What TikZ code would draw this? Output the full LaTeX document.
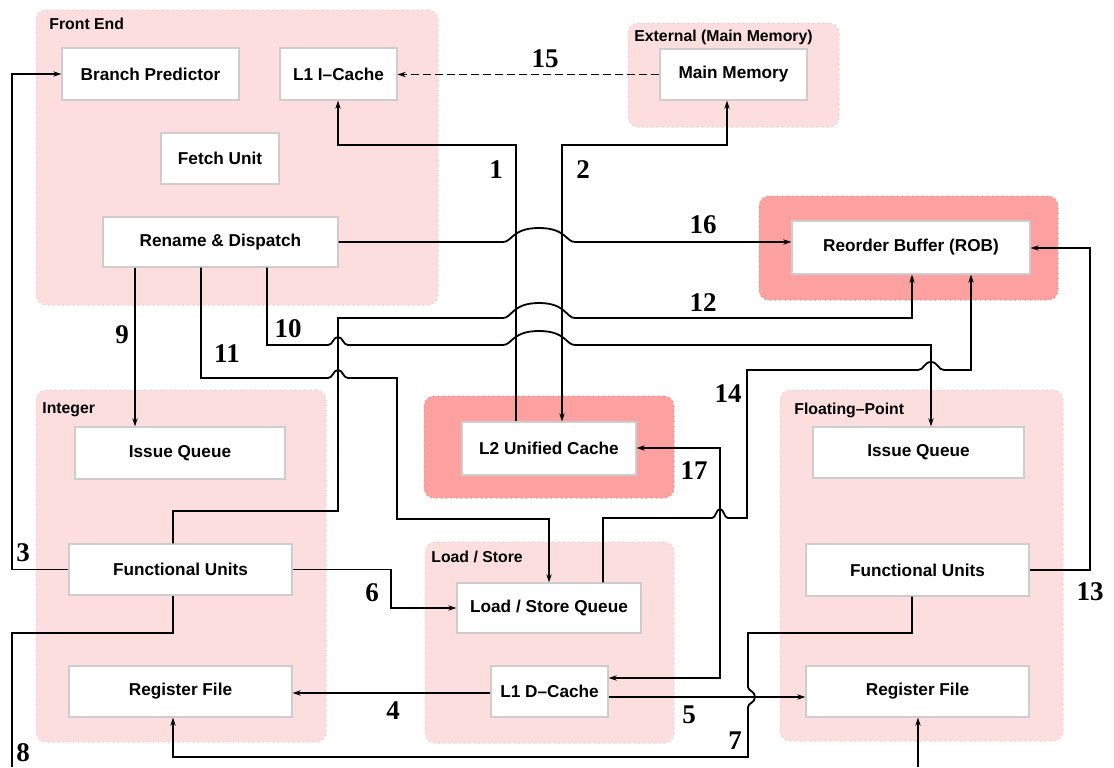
\documentclass[tikz,border=0pt]{standalone}
\usepackage{fontspec}
\setmainfont{Liberation Sans}
\newfontfamily\numfont{Liberation Serif}
\usetikzlibrary{arrows.meta,fit}
\definecolor{grpfill}{RGB}{253,222,222}
\definecolor{grphot}{RGB}{253,160,160}
\definecolor{grpedge}{RGB}{228,192,192}
\definecolor{boxedge}{RGB}{205,205,205}

% a unit box given by its corners (x1,y1) and (x2,y2), in picture units
\newcommand\unitnode[6]{%
  \node[unit, minimum width={(#4-#2)*0.5pt}, minimum height={(#5-#3)*0.5pt}]
    (#1) at ({(#2+#4)/2},{(#3+#5)/2}) {#6};}

\begin{document}
\begin{tikzpicture}[x=0.5pt,y=-0.5pt,
  >={Stealth[length=4pt,width=2.6pt]},
  group/.style={draw=grpedge, dotted, fill=grpfill, rounded corners=5pt, line width=0.5pt, inner sep=0pt},
  hotgroup/.style={group, fill=grphot, draw=grphot!85!black},
  unit/.style={draw=boxedge, fill=white, line width=0.6pt, inner sep=0pt,
    font=\fontsize{8.6}{10}\selectfont\bfseries},
  grouplabel/.style={anchor=west, inner sep=0pt, font=\fontsize{7.9}{9}\selectfont\bfseries},
  num/.style={inner sep=0pt, font=\fontsize{13.5}{15}\selectfont\numfont\bfseries},
  wire/.style={draw=black, line width=0.9pt},
]
\path[fill=white] (0,0) rectangle (1114,767);
\useasboundingbox (0,0) rectangle (1114,767);

% ---- functional groups ----
\node[group, fit={(36,10) (438,305)}] (gfront) {};
\node[group, fit={(628,23) (839,127)}] (gext) {};
\node[hotgroup, fit={(759,196) (1058,300)}] (grob) {};
\node[group, fit={(36,390) (326,742)}] (gint) {};
\node[hotgroup, fit={(424,396) (674,498)}] (gl2) {};
\node[group, fit={(425,542) (674,743)}] (gls) {};
\node[group, fit={(780,390) (1063,741)}] (gfp) {};

\node[grouplabel] (lfront) at (49,24) {Front End};
\node[grouplabel] (lext) at (634,37) {External (Main Memory)};
\node[grouplabel] (lint) at (42,410) {Integer};
\node[grouplabel] (lfp) at (794,410) {Floating–Point};
\node[grouplabel] (lls) at (431,557) {Load / Store};

% ---- units ----
\unitnode{bp}{62}{48}{239}{100}{Branch Predictor}
\unitnode{l1i}{280}{48}{397}{100}{L1 I–Cache}
\unitnode{fetch}{161}{133}{279}{184}{Fetch Unit}
\unitnode{rd}{103}{217}{338}{267}{Rename \& Dispatch}
\unitnode{mm}{660}{49}{807}{100}{Main Memory}
\unitnode{rob}{792}{221}{1030}{274}{Reorder Buffer (ROB)}
\unitnode{iiq}{75}{427}{285}{479}{Issue Queue}
\unitnode{ifu}{69}{544}{292}{595}{Functional Units}
\unitnode{irf}{69}{666}{292}{717}{Register File}
\unitnode{l2}{462}{422}{636}{475}{L2 Unified Cache}
\unitnode{lsq}{457}{583}{641}{633}{Load / Store Queue}
\unitnode{l1d}{491}{666}{608}{717}{L1 D–Cache}
\unitnode{fiq}{813}{427}{1024}{478}{Issue Queue}
\unitnode{ffu}{806}{544}{1029}{596}{Functional Units}
\unitnode{frf}{806}{666}{1029}{717}{Register File}

\coordinate (exitL) at (12,767);
\coordinate (entryR) at (918,767);

% ---- connectors ----
% 1: L2 -> L1 I-cache
\draw[wire,->] (516,0 |- l2.north) -- (516,145) -- (338,145) -- (338,0 |- l1i.south);
% 2: L2 <-> main memory
\draw[wire,<->] (562,0 |- l2.north) -- (562,145) -- (727,145) -- (727,0 |- mm.south);
% 15: main memory -> L1 I-cache
\draw[wire,->,dash pattern=on 4pt off 2pt] (mm.west) -- (mm.west -| l1i.east);
% 16: rename -> ROB
\draw[wire,->] (rd.east) -- (503,242) .. controls (512,242) and (512,228) .. (539,228)
  .. controls (566,228) and (566,242) .. (575,242) -- (rob.west |- 0,242);
% 9: rename -> integer issue queue
\draw[wire,->] (135,0 |- rd.south) -- (135,0 |- iiq.north);
% 10: rename -> FP issue queue
\draw[wire,->] (267,0 |- rd.south) -- (267,345) -- (328,345)
  .. controls (333,345) and (333,337) .. (338,337) .. controls (343,337) and (343,345) .. (348,345)
  -- (503,345) .. controls (512,345) and (512,331) .. (539,331)
  .. controls (566,331) and (566,345) .. (575,345) -- (931,345) -- (931,0 |- fiq.north);
% 11: rename -> load/store queue
\draw[wire,->] (201,0 |- rd.south) -- (201,378) -- (328,378)
  .. controls (333,378) and (333,370) .. (338,370) .. controls (343,370) and (343,378) .. (348,378)
  -- (397,378) -- (397,519) -- (549,519) -- (549,0 |- lsq.north);
% 12: integer units -> ROB
\draw[wire,->] (173,0 |- ifu.north) -- (173,511) -- (338,511) -- (338,318) -- (503,318)
  .. controls (512,318) and (512,303) .. (539,303) .. controls (566,303) and (566,318) .. (575,318)
  -- (912,318) -- (912,0 |- rob.south);
% 14: load/store queue -> ROB
\draw[wire,->] (603,0 |- lsq.north) -- (603,518) -- (712,518)
  .. controls (716,518) and (716,509) .. (720,509) .. controls (724,509) and (724,518) .. (728,518)
  -- (747,518) -- (747,370) -- (918,370)
  .. controls (924,370) and (924,362) .. (931,362) .. controls (938,362) and (938,370) .. (944,370)
  -- (971,370) -- (971,0 |- rob.south);
% 17: L1 D-cache <-> L2
\draw[wire,<->] (l1d.east |- 0,678) -- (720,678) -- (720,448) -- (l2.east |- 0,448);
% 6: integer units -> load/store queue
\draw[wire,->] (ifu.east) -- (391,0 |- ifu.east) -- (391,608) -- (lsq.west |- 0,608);
% 3: integer units -> branch predictor
\draw[wire,->] (ifu.west) -- (12,0 |- ifu.west) -- (12,0 |- bp.west) -- (bp.west);
% 8: integer units -> FP register file (wraps below)
\draw[wire] (173,0 |- ifu.south) -- (173,633) -- (12,633) -- (exitL);
\draw[wire,->] (entryR) -- (entryR |- frf.south);
% 4: L1 D-cache -> integer register file
\draw[wire,->] (l1d.west |- 0,693) -- (irf.east |- 0,693);
% 5: L1 D-cache -> FP register file
\draw[wire,->] (l1d.east |- 0,697) -- (frf.west |- 0,697);
% 7: FP units -> integer register file
\draw[wire,->] (912,0 |- ffu.south) -- (912,633) -- (748,633) -- (748,687)
  .. controls (748,691) and (755,691) .. (755,697) .. controls (755,703) and (748,703) .. (748,707)
  -- (748,757) -- (173,757) -- (173,0 |- irf.south);
% 13: FP units -> ROB
\draw[wire,->] (ffu.east) -- (1090,0 |- ffu.east) -- (1090,248) -- (rob.east |- 0,248);

% ---- connector numbers ----
\node[num] (n1) at (496,170) {1};
\node[num] (n2) at (583,170) {2};
\node[num] (n3) at (23,553) {3};
\node[num] (n4) at (393,711) {4};
\node[num] (n5) at (689,715) {5};
\node[num] (n6) at (372,593) {6};
\node[num] (n7) at (735,741) {7};
\node[num] (n8) at (23,753) {8};
\node[num] (n9) at (122,335) {9};
\node[num] (n10) at (288,329) {10};
\node[num] (n11) at (227,354) {11};
\node[num] (n12) at (703,303) {12};
\node[num] (n13) at (1090,592) {13};
\node[num] (n14) at (728,394) {14};
\node[num] (n15) at (545,59) {15};
\node[num] (n16) at (703,225) {16};
\node[num] (n17) at (694,471) {17};
\end{tikzpicture}
\end{document}
